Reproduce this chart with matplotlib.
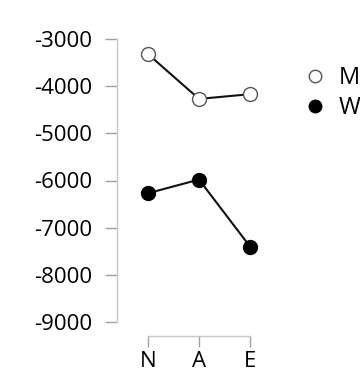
import matplotlib
matplotlib.use("Agg")
import matplotlib.pyplot as plt
from matplotlib.lines import Line2D

plt.rcParams['font.family'] = ['Open Sans', 'DejaVu Sans']

categories = ["N", "A", "E"]
men = [-3320, -4270, -4170]
women = [-6270, -5980, -7400]
yticks = [-3000, -4000, -5000, -6000, -7000, -8000, -9000]
legend_labels = ["M", "W"]

W, H = 360, 374
fig = plt.figure(figsize=(W / 100, H / 100), dpi=100)

left_px, right_px = 117, 300
top_px, bottom_px = 30, 336
ax = fig.add_axes([left_px / W, 1 - bottom_px / H, (right_px - left_px) / W, (bottom_px - top_px) / H])

x = list(range(len(categories)))
px_per_x = 51.0
px_per_y = (322 - 39) / 6000.0
ax.set_xlim(-(148 - left_px) / px_per_x, 2 + (right_px - 250) / px_per_x)
ax.set_ylim(-9000 - (bottom_px - 322) / px_per_y, -3000 + (39 - top_px) / px_per_y)

ax.plot(x, men, color='#111111', lw=1.5, marker='o', ms=10, mfc='white', mec='#555555', mew=1.0, zorder=3)
ax.plot(x, women, color='#111111', lw=1.5, marker='o', ms=10, mfc='black', mec='black', mew=1.0, zorder=3)

for s in ['top', 'right']:
    ax.spines[s].set_visible(False)
ax.spines['left'].set_bounds(-9000, -3000)
ax.spines['bottom'].set_bounds(0, 2)
for s in ['left', 'bottom']:
    ax.spines[s].set_color('#c8c8c8')
    ax.spines[s].set_linewidth(1.0)

ax.set_yticks(yticks)
ax.set_yticklabels([str(v) for v in yticks])
ax.set_xticks(x)
ax.set_xticklabels(categories)
ax.tick_params(axis='y', length=8.6, width=1.0, color='#a0a0a0', pad=9, labelsize=16)
ax.tick_params(axis='x', length=8, width=1.0, color='#a0a0a0', pad=3, labelsize=16)

handles = [
    Line2D([], [], ls='none', marker='o', ms=9, mfc='white', mec='#555555', mew=1.0),
    Line2D([], [], ls='none', marker='o', ms=9, mfc='black', mec='black', mew=1.0),
]
fig.legend(handles, legend_labels, loc='center left', bbox_to_anchor=(306 / W, 1 - 93 / H),
           frameon=False, fontsize=17, handlelength=0.8, handletextpad=0.6,
           labelspacing=0.25, borderpad=0, borderaxespad=0)

fig.savefig("out.png", dpi=100)
